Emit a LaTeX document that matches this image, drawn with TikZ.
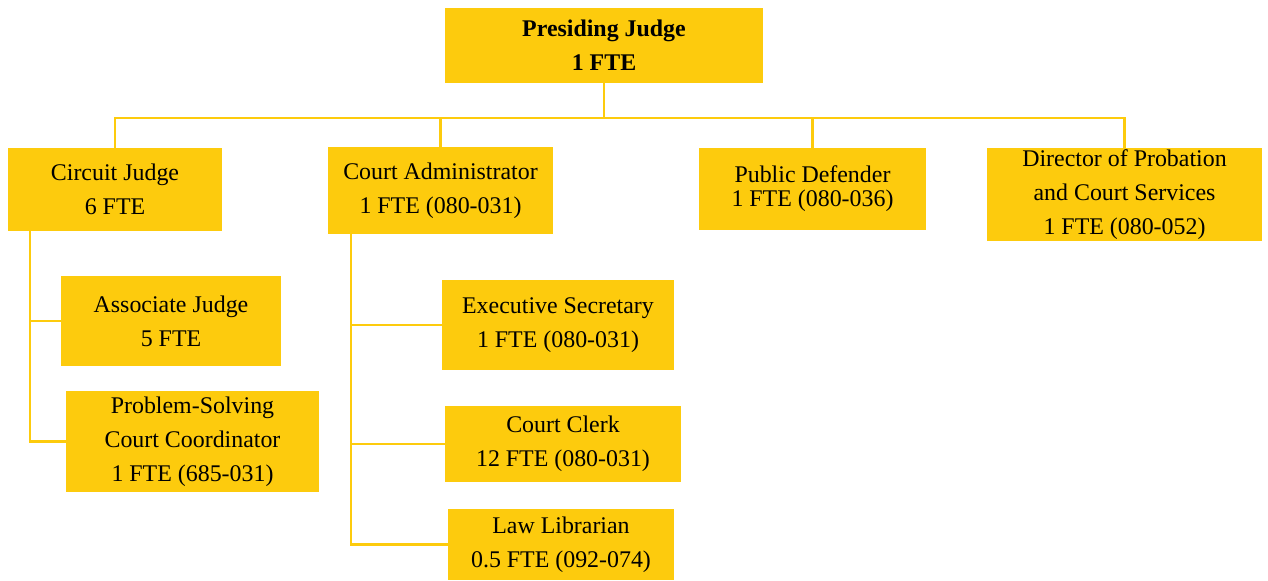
\documentclass[tikz,border=0pt]{standalone}
\usepackage{fontspec}
\setmainfont{Liberation Serif}
\usepackage{tikz}
\usetikzlibrary{positioning}
\definecolor{gold}{RGB}{253,203,13}
\tikzset{
  post/.style={
    shape = rectangle,
    fill = gold,
    inner sep = 0pt,
    align = center,
    font = \fontsize{13.6}{19.3}\selectfont
  },
}
\tikzset{
  tightpost/.style={
    post,
    font = \fontsize{13.6}{13.6}\selectfont
  },
}
\tikzset{
  link/.style={
    draw = gold,
    line width = 1.5pt
  },
}
\begin{document}
\begin{tikzpicture}[x=0.02cm, y=-0.02cm]
    \useasboundingbox (0,0) rectangle (1268,581);

    \node[post, minimum width=6.36cm, minimum height=1.5cm] (presiding) at (604,45.5) {\textbf{Presiding Judge}\\\textbf{1 FTE}};

    \node[post, minimum width=4.3cm, minimum height=1.66cm] (circuit) at (115,189.5) {Circuit Judge\\6 FTE};
    \node[post, minimum width=4.5cm, minimum height=1.74cm] (admin) at (440.5,190.5) {Court Administrator\\1 FTE (080-031)};
    \node[tightpost, minimum width=4.54cm, minimum height=1.64cm] (defender) at (812.5,189) {Public Defender\\1 FTE (080-036)};
    \node[post, minimum width=5.5cm, minimum height=1.86cm] (director) at (1124.5,194.5) {Director of Probation\\and Court Services\\1 FTE (080-052)};

    \node[post, minimum width=4.4cm, minimum height=1.8cm] (associate) at (171,321) {Associate Judge\\5 FTE};
    \node[post, minimum width=5.06cm, minimum height=2.02cm] (problem) at (192.5,441.5) {Problem-Solving\\Court Coordinator\\1 FTE (685-031)};

    \node[post, minimum width=4.64cm, minimum height=1.8cm] (secretary) at (558,325) {Executive Secretary\\1 FTE (080-031)};
    \node[post, minimum width=4.72cm, minimum height=1.52cm] (clerk) at (563,444) {Court Clerk\\12 FTE (080-031)};
    \node[post, minimum width=4.52cm, minimum height=1.42cm] (librarian) at (561,544.5) {Law Librarian\\0.5 FTE (092-074)};

    % connectors
    \coordinate (bus) at (0,118);
    \coordinate (judgebus) at (30,0);
    \coordinate (adminbus) at (351,0);

    \draw[link] (presiding.south) -- (presiding.south |- bus);
    \draw[link] (circuit.north) -- (circuit.north |- bus) -- (director.north |- bus) -- (director.north);
    \draw[link] (admin.north) -- (admin.north |- bus);
    \draw[link] (defender.north) -- (defender.north |- bus);

    \draw[link] (circuit.south -| judgebus) |- (problem.west);
    \draw[link] (judgebus |- associate.west) -- (associate.west);

    \draw[link] (admin.south -| adminbus) |- (librarian.west);
    \draw[link] (adminbus |- secretary.west) -- (secretary.west);
    \draw[link] (adminbus |- clerk.west) -- (clerk.west);
\end{tikzpicture}
\end{document}
